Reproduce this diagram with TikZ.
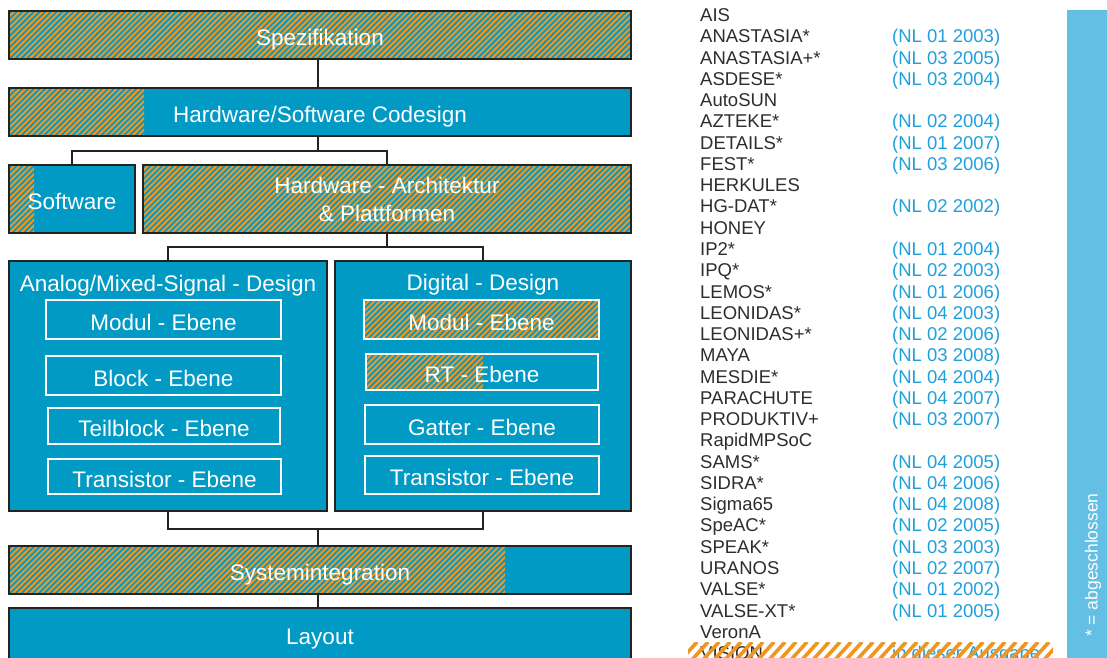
\documentclass[tikz,border=0pt]{standalone}
\usepackage{fontspec}
\setmainfont{Liberation Sans}
\usetikzlibrary{calc}
\definecolor{boxblue}{RGB}{0,154,197}
\definecolor{hatchorange}{RGB}{240,150,32}
\definecolor{barblue}{RGB}{100,191,228}
\definecolor{nlblue}{RGB}{30,160,220}
\definecolor{listgray}{RGB}{45,45,45}
\definecolor{edgegray}{RGB}{35,35,35}
\newcommand\hatchrect[4]{%
  \begin{scope}
    \clip (#1,#2) rectangle (#3,#4);
    \pgfmathsetmacro\hh{#4-#2}
    \pgfmathsetmacro\xs{#1-\hh}
    \pgfmathsetmacro\xt{\xs+5.7}
    \foreach \xx in {\xs,\xt,...,#3} \draw[hatchline] (\xx,#4) -- ++(\hh,-\hh);
  \end{scope}}
\begin{document}
\begin{tikzpicture}[x=1pt,y=-1pt,
  hatchline/.style={hatchorange,line width=2pt},
  box/.style={draw=edgegray,line width=1.3pt,text=white,inner sep=0pt,
    font=\fontsize{22.5}{28}\selectfont,align=center},
  onetext/.style={text height=23pt,text depth=2pt},
  inbox/.style={draw=white,line width=1.8pt,text=white,inner sep=0pt,
    font=\fontsize{22.5}{28}\selectfont,onetext},
  title/.style={text=white,inner sep=0pt,font=\fontsize{22.5}{28}\selectfont,onetext},
  conn/.style={draw=edgegray,line width=1.3pt},
  item/.style={anchor=base west,inner sep=0pt,text=listgray,font=\fontsize{18.5}{21}\selectfont},
  nl/.style={anchor=base west,inner sep=0pt,text=nlblue,font=\fontsize{18.5}{21}\selectfont}]
\useasboundingbox (0,0) rectangle (1107,657);

% ---------- fills and hatching ----------
\fill[boxblue] (9,11) rectangle (631,59);      \hatchrect{9}{11}{631}{59}
\fill[boxblue] (9,88) rectangle (631,136);     \hatchrect{9}{88}{144}{136}
\fill[boxblue] (9,165) rectangle (135,233);    \hatchrect{9}{165}{34}{233}
\fill[boxblue] (143,165) rectangle (631,233);  \hatchrect{143}{165}{631}{233}
\fill[boxblue] (9,261) rectangle (327,511);
\fill[boxblue] (335,261) rectangle (631,511);
\hatchrect{364}{300}{599}{339}
\hatchrect{366}{354}{483}{390}
\fill[boxblue] (9,546) rectangle (631,594);    \hatchrect{9}{546}{505}{594}
\fill[boxblue] (9,608) rectangle (631,662);

% ---------- boxes ----------
\node[box,onetext,minimum width=622pt,minimum height=48pt] (spez) at (320,35) {Spezifikation};
\node[box,onetext,minimum width=622pt,minimum height=48pt] (code) at (320,112) {Hardware/Software Codesign};
\node[box,onetext,minimum width=126pt,minimum height=68pt] (sw) at (72,199) {Software};
\node[box,minimum width=488pt,minimum height=68pt] (hw) at (387,199) {Hardware - Architektur\\\& Plattformen};
\node[box,minimum width=318pt,minimum height=250pt] (ana) at (168,386) {};
\node[box,minimum width=296pt,minimum height=250pt] (dig) at (483,386) {};
\node[title] (anat) at (168,281) {Analog/Mixed-Signal - Design};
\node[title] (digt) at (483,280) {Digital - Design};

\node[inbox,minimum width=235pt,minimum height=39pt] (a1) at (163.5,319.5) {Modul - Ebene};
\node[inbox,minimum width=235pt,minimum height=39pt] (a2) at (163.5,375.5) {Block - Ebene};
\node[inbox,minimum width=232pt,minimum height=36pt] (a3) at (164,426) {Teilblock - Ebene};
\node[inbox,minimum width=233pt,minimum height=35pt] (a4) at (164.5,476.5) {Transistor - Ebene};

\node[inbox,minimum width=235pt,minimum height=39pt] (d1) at (481.5,319.5) {Modul - Ebene};
\node[inbox,minimum width=232pt,minimum height=36pt] (d2) at (482,372) {RT - Ebene};
\node[inbox,minimum width=234pt,minimum height=39pt] (d3) at (482,424.5) {Gatter - Ebene};
\node[inbox,minimum width=234pt,minimum height=38pt] (d4) at (482,475) {Transistor - Ebene};

\node[box,onetext,minimum width=622pt,minimum height=48pt] (sys) at (320,570) {Systemintegration};
\node[box,onetext,minimum width=622pt,minimum height=52pt] (lay) at (320,634) {Layout};

% ---------- connectors ----------
\coordinate (j1) at (318,151);
\coordinate (j2) at (387,247);
\coordinate (j3) at (318,529);
\draw[conn] (spez.south -| j1) -- (code.north -| j1);
\draw[conn] (code.south -| j1) -- (j1);
\draw[conn] (sw.north) -- (sw.north |- j1) -- (hw.north |- j1) -- (hw.north);
\draw[conn] (hw.south) -- (hw.south |- j2);
\draw[conn] (ana.north) -- (ana.north |- j2) -- (dig.north |- j2) -- (dig.north);
\draw[conn] (ana.south) -- (ana.south |- j3) -- (dig.south |- j3) -- (dig.south);
\draw[conn] (j3) -- (sys.north -| j3);
\draw[conn] (sys.south -| j3) -- (lay.north -| j3);

% ---------- project list ----------
\foreach [count=\i from 0] \n in {AIS,ANASTASIA*,ANASTASIA+*,ASDESE*,AutoSUN,AZTEKE*,DETAILS*,FEST*,HERKULES,HG-DAT*,HONEY,IP2*,IPQ*,LEMOS*,LEONIDAS*,LEONIDAS+*,MAYA,MESDIE*,PARACHUTE,PRODUKTIV+,RapidMPSoC,SAMS*,SIDRA*,Sigma65,SpeAC*,SPEAK*,URANOS,VALSE*,VALSE-XT*,VeronA,VISION}
  \node[item] (p\i) at (700,{21.5+21.27*\i}) {\n};
\foreach \i/\t in {1/(NL 01 2003),2/(NL 03 2005),3/(NL 03 2004),5/(NL 02 2004),6/(NL 01 2007),7/(NL 03 2006),9/(NL 02 2002),11/(NL 01 2004),12/(NL 02 2003),13/(NL 01 2006),14/(NL 04 2003),15/(NL 02 2006),16/(NL 03 2008),17/(NL 04 2004),18/(NL 04 2007),19/(NL 03 2007),21/(NL 04 2005),22/(NL 04 2006),23/(NL 04 2008),24/(NL 02 2005),25/(NL 03 2003),26/(NL 02 2007),27/(NL 01 2002),28/(NL 01 2005),30/in dieser Ausgabe}
  \node[nl] (q\i) at (892,{21.5+21.27*\i}) {\t};

% orange stripes over the last line
\begin{scope}
  \clip (688,642) rectangle (1053,662);
  \foreach \xx in {668,679,...,1060} \draw[hatchorange,line width=3.6pt] (\xx,662) -- ++(18,-20);
\end{scope}

% ---------- legend bar ----------
\fill[barblue] (1067,10) rectangle (1107,660);
\node[rotate=90,anchor=west,inner sep=0pt,text=white,font=\fontsize{17.5}{20}\selectfont] (legend) at (1093,637) {* = abgeschlossen};
\end{tikzpicture}
\end{document}
